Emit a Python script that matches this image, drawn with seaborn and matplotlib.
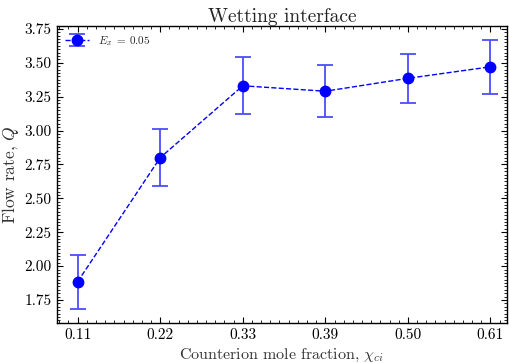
import numpy as np
import matplotlib
matplotlib.use("Agg")
import matplotlib.pyplot as plt
from matplotlib.ticker import AutoMinorLocator
import seaborn as sns

# data
mole_fraction = ["0.11", "0.22", "0.33", "0.39", "0.50", "0.61"]
flow_rate = [1.885, 2.80, 3.33, 3.29, 3.385, 3.47]
flow_err = [0.20, 0.21, 0.21, 0.19, 0.18, 0.20]

sns.set_style("ticks")
plt.rcParams["font.family"] = "serif"
plt.rcParams["font.serif"] = ["cmr10", "DejaVu Serif"]
plt.rcParams["mathtext.fontset"] = "cm"
plt.rcParams["axes.unicode_minus"] = False

fig, ax = plt.subplots(figsize=(5.09, 3.63), dpi=100)
fig.subplots_adjust(left=0.112, right=0.996, top=0.928, bottom=0.11)

pos = np.arange(len(mole_fraction))
ax.errorbar(pos, flow_rate, yerr=flow_err, fmt="o", color="blue",
            markersize=7.5, ecolor=(0.3, 0.3, 1.0), elinewidth=1.3,
            capsize=6, capthick=1.3, linestyle="--", linewidth=1.0,
            label=r"$E_x\;=\;0.05$")

ax.set_xticks(pos)
ax.set_xticklabels(mole_fraction)
ax.set_xlim(-0.25, 5.2)
ax.set_ylim(1.58, 3.77)
ax.set_yticks([1.75, 2.00, 2.25, 2.50, 2.75, 3.00, 3.25, 3.50, 3.75])
ax.set_yticklabels([f"{v:.2f}" for v in ax.get_yticks()])
ax.xaxis.set_minor_locator(AutoMinorLocator(9))
ax.yaxis.set_minor_locator(AutoMinorLocator(10))
ax.tick_params(which="both", direction="in", top=True, right=True,
               labelsize=11, colors="black")
ax.tick_params(which="major", length=4, width=0.8, pad=4)
ax.tick_params(which="minor", length=2, width=0.6)
for s in ax.spines.values():
    s.set_linewidth(1.0)
    s.set_color("black")

ax.set_title("Wetting interface", fontsize=14, pad=3, color="#222222")
ax.set_xlabel(r"Counterion mole fraction, $\chi_{ci}$", fontsize=11.5,
              color="#333333", labelpad=3)
ax.set_ylabel(r"Flow rate, $Q$", fontsize=12.5, color="#333333", labelpad=2)

ax.legend(loc="upper left", frameon=False, fontsize=8, borderaxespad=0.3,
          handlelength=2.2, handletextpad=0.8)

fig.savefig("out.png", dpi=100)
